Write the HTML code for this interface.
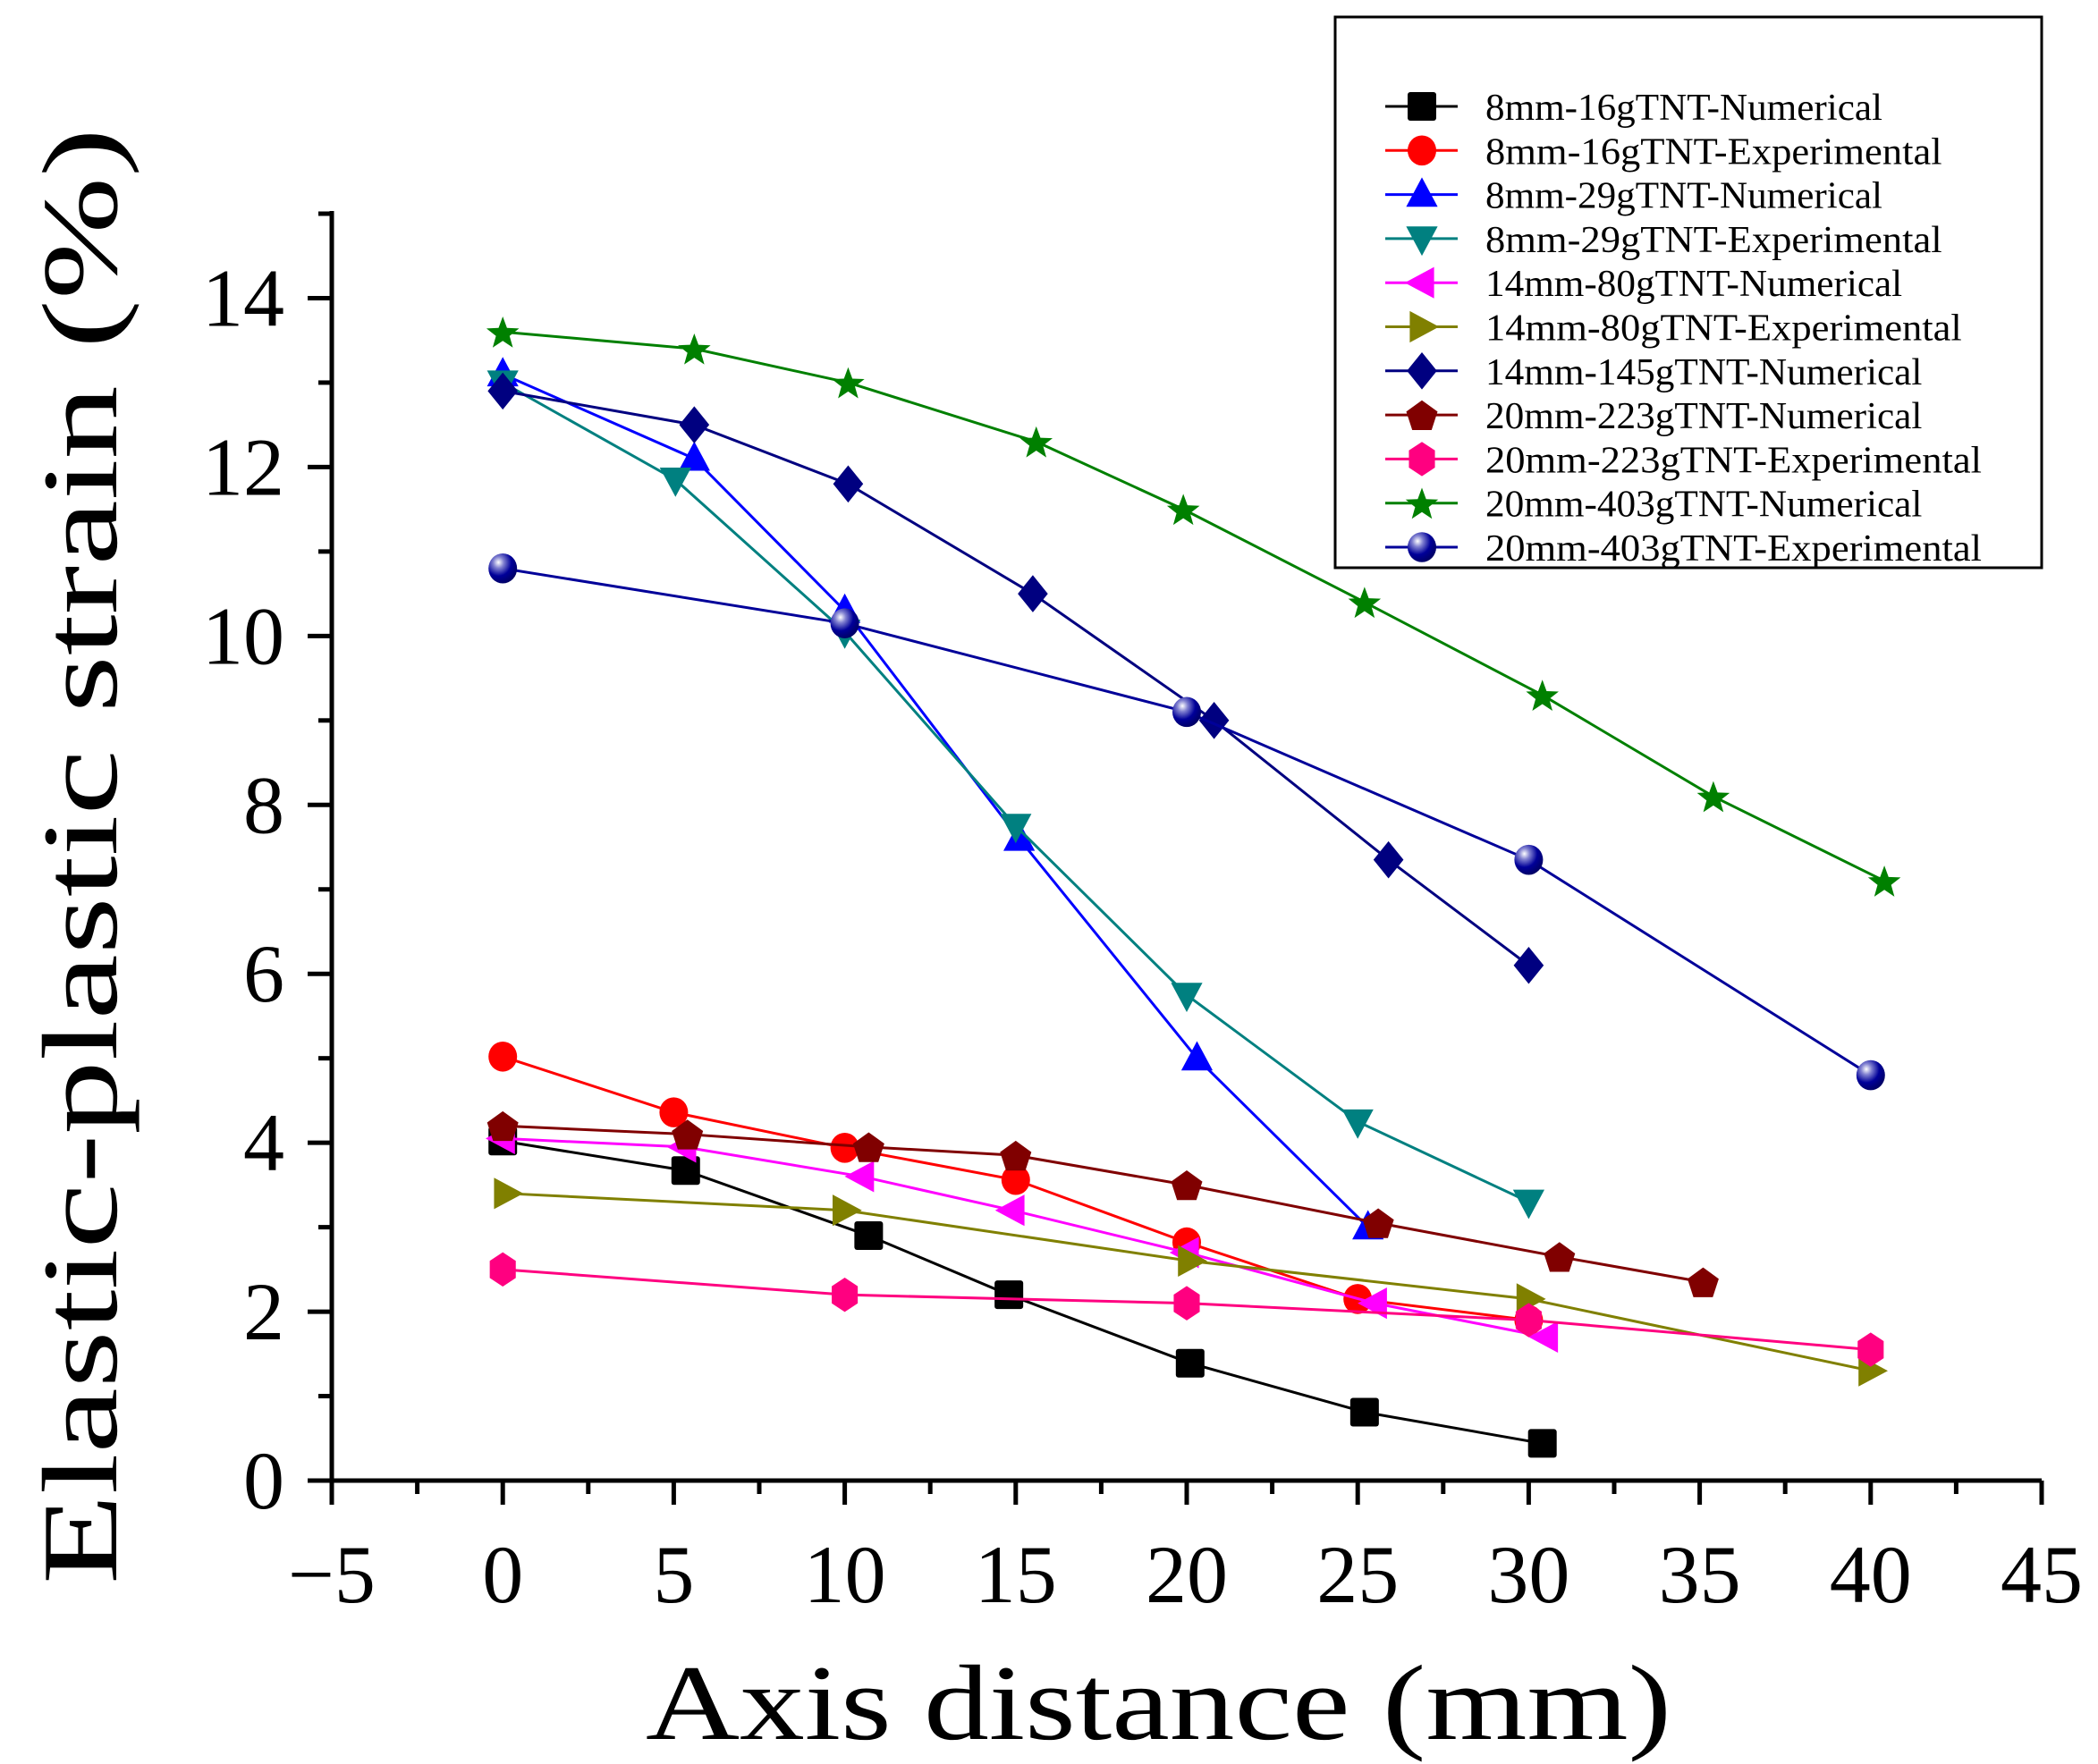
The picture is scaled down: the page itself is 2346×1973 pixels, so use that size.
<!DOCTYPE html>
<html><head><meta charset="utf-8"><style>
html,body{margin:0;padding:0;background:#fff;}
svg{display:block;}
text{font-family:"Liberation Serif",serif;fill:#000;}
</style></head><body>
<svg id="chart" width="2346" height="1973" viewBox="0 0 2346 1973" xmlns="http://www.w3.org/2000/svg">
<defs>
<radialGradient id="sphere" cx="0.35" cy="0.3" r="0.75">
<stop offset="0" stop-color="#ffffff"/><stop offset="0.25" stop-color="#8080d0"/><stop offset="0.6" stop-color="#000099"/><stop offset="1" stop-color="#000060"/>
</radialGradient>
</defs>
<g id="grid-layer"></g>
<g id="series-layer"></g>
<g id="axis-layer"></g>
<g id="legend-layer"></g>
<text x="722" y="1945" font-size="120" textLength="1147" lengthAdjust="spacingAndGlyphs">Axis distance (mm)</text>
<text transform="translate(130,1772) rotate(-90)" x="0" y="0" font-size="120" textLength="1629" lengthAdjust="spacingAndGlyphs">Elastic-plastic strain (%)</text>
</svg>
<script>
const xTicks = [-5,0,5,10,15,20,25,30,35,40,45];
const yTicks = [0,2,4,6,8,10,12,14];
const seriesNames = ["8mm-16gTNT-Numerical","8mm-16gTNT-Experimental","8mm-29gTNT-Numerical","8mm-29gTNT-Experimental","14mm-80gTNT-Numerical","14mm-80gTNT-Experimental","14mm-145gTNT-Numerical","20mm-223gTNT-Numerical","20mm-223gTNT-Experimental","20mm-403gTNT-Numerical","20mm-403gTNT-Experimental"];
const seriesColors = ["#000000","#ff0000","#0000ff","#008080","#ff00ff","#808000","#000080","#800000","#ff0080","#008000","#000099"];
const seriesMarkers = ["square","circle","up","down","left","right","diamond","pentagon","hexagon","star","sphere"];
const s1x=[0,5.35,10.7,14.8,20.1,25.2,30.4], s1y=[4.02,3.67,2.9,2.2,1.39,0.81,0.44];
const s2x=[0,5,10,15,20,25,30], s2y=[5.02,4.36,3.94,3.56,2.82,2.15,1.9];
const s3x=[0,5.6,10,15.1,20.3,25.3], s3y=[13.1,12.1,10.3,7.6,5.0,3.0];
const s4x=[0,5.05,10,15,20,25,30], s4y=[13.0,11.85,10.05,7.75,5.75,4.25,3.3];
const s5x=[0,5.3,10.5,14.9,20,25.5,30.5], s5y=[4.05,3.95,3.6,3.2,2.7,2.1,1.7];
const s6x=[0.1,10,20.1,30,40], s6y=[3.4,3.2,2.6,2.15,1.3];
const s7x=[0,5.6,10.1,15.5,20.8,25.9,30], s7y=[12.9,12.5,11.8,10.5,9.0,7.35,6.1];
const s8x=[0,5.4,10.7,15,20,25.6,30.9,35.1], s8y=[4.2,4.1,3.95,3.85,3.5,3.05,2.65,2.35];
const s9x=[0,10,20,30,40], s9y=[2.5,2.2,2.1,1.9,1.55];
const s10x=[0,5.6,10.1,15.6,19.9,25.2,30.4,35.4,40.4], s10y=[13.6,13.4,13.0,12.3,11.5,10.4,9.3,8.1,7.1];
const s11x=[0,10,20,30,40], s11y=[10.8,10.15,9.1,7.35,4.8];
const allX=[s1x,s2x,s3x,s4x,s5x,s6x,s7x,s8x,s9x,s10x,s11x];
const allY=[s1y,s2y,s3y,s4y,s5y,s6y,s7y,s8y,s9y,s10y,s11y];

const NS="http://www.w3.org/2000/svg";
const X0=371, X1=2283, Y0=1656, Y1=239;
const xMin=-5,xMax=45,yMin=0,yMax=15;
function sx(v){return X0+(v-xMin)/(xMax-xMin)*(X1-X0);}
function sy(v){return Y0-(v-yMin)/(yMax-yMin)*(Y0-Y1);}
function mk(tag,attrs,parent){const e=document.createElementNS(NS,tag);for(const k in attrs)e.setAttribute(k,attrs[k]);parent.appendChild(e);return e;}

function marker(type,cx,cy,color,parent){
  const r=16; let e;
  if(type==="square"){e=mk("rect",{x:cx-r,y:cy-r,width:2*r,height:2*r,rx:3,fill:color},parent);}
  else if(type==="circle"){e=mk("ellipse",{cx:cx,cy:cy,rx:r,ry:r*1.05,fill:color},parent);}
  else if(type==="sphere"){e=mk("ellipse",{cx:cx,cy:cy,rx:r,ry:r*1.05,fill:"url(#sphere)"},parent);}
  else {
    let pts=[];
    if(type==="up")pts=[[0,-r*1.2],[r*1.1,r*0.85],[-r*1.1,r*0.85]];
    else if(type==="down")pts=[[0,r*1.2],[r*1.1,-r*0.85],[-r*1.1,-r*0.85]];
    else if(type==="left")pts=[[-r*1.2,0],[r*0.85,-r*1.1],[r*0.85,r*1.1]];
    else if(type==="right")pts=[[r*1.2,0],[-r*0.85,-r*1.1],[-r*0.85,r*1.1]];
    else if(type==="diamond")pts=[[0,-r*1.3],[r*1.05,0],[0,r*1.3],[-r*1.05,0]];
    else if(type==="pentagon"){for(let i=0;i<5;i++){const a=-Math.PI/2+i*2*Math.PI/5;pts.push([r*1.15*Math.cos(a),r*1.15*Math.sin(a)+2]);}}
    else if(type==="hexagon"){for(let i=0;i<6;i++){const a=-Math.PI/2+i*Math.PI/3;pts.push([r*1.05*Math.cos(a),r*1.2*Math.sin(a)]);}}
    else if(type==="star"){for(let i=0;i<10;i++){const a=-Math.PI/2+i*Math.PI/5;const rr=i%2?r*0.5:r*1.2;pts.push([rr*Math.cos(a),rr*Math.sin(a)+2]);}}
    e=mk("polygon",{points:pts.map(p=>(cx+p[0])+","+(cy+p[1])).join(" "),fill:color},parent);
  }
  return e;
}

const sl=document.getElementById("series-layer");
for(let s=0;s<allX.length;s++){
  const g=mk("g",{},sl);
  
  
  const pts=allX[s].map((v,i)=>sx(v)+","+sy(allY[s][i])).join(" ");
  const line=mk("polyline",{points:pts,fill:"none",stroke:seriesColors[s],"stroke-width":3},g);
  
  
  for(let i=0;i<allX[s].length;i++){
    const m=marker(seriesMarkers[s],sx(allX[s][i]),sy(allY[s][i]),seriesColors[s],g);
    
    
  }
}

const al=document.getElementById("axis-layer");
const xa=mk("line",{x1:X0-27,y1:Y0,x2:X1,y2:Y0,stroke:"#000","stroke-width":5},al);


const ya=mk("line",{x1:X0,y1:Y0+27,x2:X0,y2:Y1-3,stroke:"#000","stroke-width":5},al);


for(let v=xMin; v<=xMax; v+=2.5){
  const major=(Math.abs(v%5)<1e-6);
  mk("line",{x1:sx(v),y1:Y0,x2:sx(v),y2:Y0+(major?27:15),stroke:"#000","stroke-width":5},al);
}
for(let v=yMin; v<=yMax; v+=1){
  const major=(v%2===0);
  mk("line",{x1:X0,y1:sy(v),x2:X0-(major?27:15),y2:sy(v),stroke:"#000","stroke-width":5},al);
}
xTicks.forEach(v=>{
  const t=mk("text",{x:sx(v),y:1792,"font-size":92,"text-anchor":"middle"},al);
  t.textContent=(v<0?"\u2212"+Math.abs(v):String(v));
  
  
});
yTicks.forEach(v=>{
  const t=mk("text",{x:318,y:sy(v)+31,"font-size":92,"text-anchor":"end"},al);
  t.textContent=String(v);
  
  
});

const ll=document.getElementById("legend-layer");
const box=mk("rect",{x:1493,y:19,width:790,height:616,fill:"#fff",stroke:"#000","stroke-width":3},ll);


for(let s=0;s<seriesNames.length;s++){
  const y=119+s*49.3;
  const g=mk("g",{},ll);
  
  
  mk("line",{x1:1549,y1:y,x2:1630,y2:y,stroke:seriesColors[s],"stroke-width":3},g);
  marker(seriesMarkers[s],1590,y,seriesColors[s],g);
  const t=mk("text",{x:1661,y:y+15,"font-size":42,textLength:seriesNames[s].length*22.2,lengthAdjust:"spacingAndGlyphs"},g);
  t.textContent=seriesNames[s];
}
</script>
</body></html>
